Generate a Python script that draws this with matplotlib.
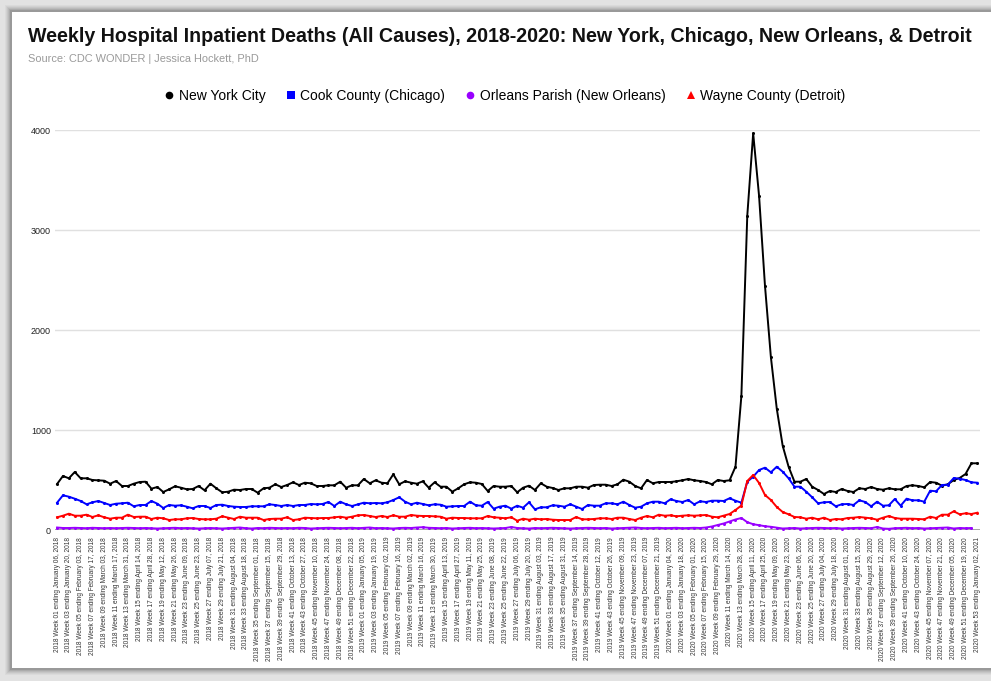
import matplotlib
matplotlib.use("Agg")
from datetime import date, timedelta

import matplotlib.pyplot as plt
from matplotlib.lines import Line2D
from matplotlib.patches import Rectangle

# --- DATA (weekly, 2018 W01 .. 2020 W53) ---
years = [2018, 2019, 2020]
weeks_per_year = [52, 52, 53]
first_week_end = [date(2018, 1, 6), date(2019, 1, 5), date(2020, 1, 4)]

nyc = [460, 540, 517, 580, 517, 517, 500, 497, 493, 463, 490, 440, 440, 463, 480, 483, 413, 430, 380, 407,
       437, 423, 407, 410, 440, 397, 463, 417, 377, 383, 403, 400, 410, 410, 373, 417, 423, 457, 430, 450,
       477, 450, 473, 467, 440, 440, 447, 447, 483, 423, 447, 447, 510, 467, 497, 473, 467, 557, 457, 487,
       473, 463, 487, 423, 477, 433, 433, 383, 417, 457, 477, 473, 460, 390, 440, 433, 433, 440, 377, 423,
       443, 400, 467, 433, 420, 400, 417, 417, 433, 433, 423, 450, 453, 453, 440, 457, 503, 483, 440, 417,
       500, 467, 480, 480, 480, 487, 497, 510, 497, 490, 480, 457, 500, 490, 497, 633, 1340, 3143, 3967, 3340,
       2443, 1730, 1213, 843, 633, 483, 483, 510, 433, 400, 360, 390, 380, 410, 390, 380, 417, 410, 430, 410,
       403, 417, 407, 407, 440, 447, 440, 427, 480, 473, 443, 457, 500, 520, 560, 667, 667]

cook = [273, 347, 333, 313, 290, 257, 277, 290, 270, 250, 263, 267, 273, 237, 250, 250, 290, 263, 220, 250,
        243, 247, 233, 217, 240, 240, 220, 250, 253, 240, 233, 230, 230, 237, 237, 237, 257, 250, 240, 250,
        240, 250, 250, 260, 257, 260, 280, 240, 283, 257, 240, 257, 273, 267, 270, 267, 277, 300, 327, 283,
        257, 273, 260, 247, 257, 253, 233, 237, 240, 240, 283, 247, 243, 280, 213, 233, 243, 213, 243, 223,
        277, 207, 227, 227, 247, 243, 233, 257, 233, 210, 250, 243, 243, 267, 267, 257, 283, 250, 223, 233,
        267, 283, 283, 267, 307, 290, 280, 300, 257, 287, 280, 293, 293, 290, 317, 293, 273, 483, 533, 600,
        623, 577, 633, 583, 517, 433, 433, 383, 327, 267, 277, 280, 237, 257, 260, 250, 297, 280, 237, 283,
        243, 247, 310, 243, 313, 297, 297, 283, 393, 387, 450, 453, 520, 513, 500, 477, 473]

orleans = [25, 20, 20, 22, 20, 18, 22, 20, 18, 20, 18, 20, 22, 20, 18, 20, 18, 15, 18, 20,
           22, 18, 20, 18, 15, 18, 20, 18, 15, 18, 20, 25, 18, 15, 20, 18, 22, 20, 18, 20,
           18, 22, 20, 15, 18, 20, 22, 20, 18, 20, 22, 18, 22, 25, 18, 20, 18, 15, 20, 22,
           20, 25, 28, 22, 20, 18, 20, 15, 18, 20, 22, 18, 20, 18, 15, 18, 20, 30, 20, 18,
           15, 20, 18, 20, 22, 20, 18, 15, 18, 20, 22, 20, 18, 20, 15, 18, 20, 22, 25, 20,
           18, 20, 22, 18, 20, 22, 18, 20, 22, 20, 25, 35, 50, 65, 85, 105, 120, 78, 58, 48,
           38, 32, 24, 15, 18, 20, 15, 18, 20, 22, 20, 18, 20, 15, 18, 20, 22, 20, 18, 30,
           15, 12, 18, 20, 22, 18, 20, 15, 18, 20, 22, 25, 15, 20, 18, 20, None]

wayne = [127, 143, 163, 143, 143, 153, 130, 147, 127, 113, 123, 123, 153, 130, 133, 133, 110, 123, 117, 100,
         107, 107, 117, 120, 110, 107, 107, 113, 137, 123, 110, 133, 123, 123, 123, 100, 110, 113, 113, 127,
         100, 107, 123, 120, 117, 120, 120, 127, 133, 123, 133, 147, 150, 140, 130, 140, 130, 147, 133, 133,
         150, 143, 140, 140, 137, 133, 113, 123, 120, 120, 117, 117, 117, 140, 127, 123, 117, 127, 93, 113,
         103, 113, 107, 110, 103, 100, 100, 100, 130, 107, 107, 110, 117, 117, 110, 123, 123, 110, 100, 123,
         140, 127, 153, 143, 147, 137, 143, 147, 143, 147, 150, 133, 127, 143, 160, 200, 245, 490, 550, 470,
         350, 300, 230, 180, 157, 130, 127, 113, 123, 107, 123, 100, 110, 107, 120, 123, 130, 123, 117, 103,
         123, 140, 120, 113, 113, 113, 110, 107, 133, 120, 153, 153, 187, 157, 167, 160, 173]

series_names = ["New York City", "Cook County (Chicago)", "Orleans Parish (New Orleans)", "Wayne County (Detroit)"]
series_colors = ["#000000", "#0000ff", "#9900ff", "#ff0000"]
legend_markers = ["o", "s", "o", "^"]
yticks = [0, 1000, 2000, 3000, 4000]

week_labels = []
for yr, n, d0 in zip(years, weeks_per_year, first_week_end):
    for w in range(n):
        d = d0 + timedelta(weeks=w)
        week_labels.append(f"{yr} Week {w + 1:02d} ending {d:%B %d, %Y}")

# --- FIGURE ---
plt.rcParams["font.family"] = ["Liberation Sans", "DejaVu Sans"]
W, H = 991, 681
fig = plt.figure(figsize=(W / 100, H / 100), dpi=100, facecolor="#e2e2e2")

# card with a soft shadow
for i, a in enumerate([0.03, 0.04, 0.05, 0.06, 0.08, 0.10]):
    off = 7 - i
    fig.patches.append(Rectangle(((12 - off) / W, (H - 668 - off) / H), (W - 12 + 2 * off) / W,
                                 (668 - 12 + 2 * off) / H, transform=fig.transFigure,
                                 facecolor="black", alpha=a, edgecolor="none", zorder=-3))
fig.patches.append(Rectangle((12 / W, (H - 668) / H), (W - 12) / W, (668 - 12) / H,
                             transform=fig.transFigure, facecolor="white", edgecolor="none", zorder=-2))

fig.text(28 / W, 1 - 37 / H, "Weekly Hospital Inpatient Deaths (All Causes), 2018-2020: New York, Chicago, New Orleans, & Detroit",
         fontsize=14.1, fontweight="bold", ha="left", va="center", color="#111111")
fig.text(28 / W, 1 - 59 / H, "Source: CDC WONDER | Jessica Hockett, PhD",
         fontsize=7.9, ha="left", va="center", color="#9a9a9a")

ax = fig.add_axes([55 / W, (H - 530) / H, (980 - 55) / W, 400 / H])
ax.set_zorder(2)
ax.patch.set_alpha(0)
x = list(range(len(week_labels)))
for vals, name, col in zip([nyc, cook, orleans, wayne], series_names, series_colors):
    yv = [float("nan") if v is None else v for v in vals]
    ax.plot(x, yv, color=col, lw=1.4, marker="o", ms=2.2, mew=0, label=name, zorder=3)

ax.set_ylim(0, 4000)
ax.set_xlim(-0.35, 156.45)
ax.set_yticks(yticks)
ax.set_yticklabels([str(v) for v in yticks], fontsize=6.5, color="#222222")
ax.yaxis.grid(True, color="#e0e0e0", lw=1)
ax.axhline(0, color="#999999", lw=1.2, zorder=2)
ax.set_axisbelow(True)
ax.set_xticks(x[::2])
ax.set_xticklabels(week_labels[::2], rotation=90, fontsize=4.7, color="#333333", va="top")
ax.tick_params(axis="both", length=0, pad=3)
ax.tick_params(axis="x", pad=5)
for s in ax.spines.values():
    s.set_visible(False)

handles = [Line2D([], [], color=c, marker=m, ls="none", ms=5.5, mew=0)
           for c, m in zip(series_colors, legend_markers)]
fig.legend(handles, series_names, loc="center", bbox_to_anchor=(504 / W, 1 - 96 / H), ncol=4,
           frameon=False, fontsize=10, handletextpad=0.2, columnspacing=1.3, handlelength=1.0)

fig.savefig("out.png", dpi=100, facecolor=fig.get_facecolor())
